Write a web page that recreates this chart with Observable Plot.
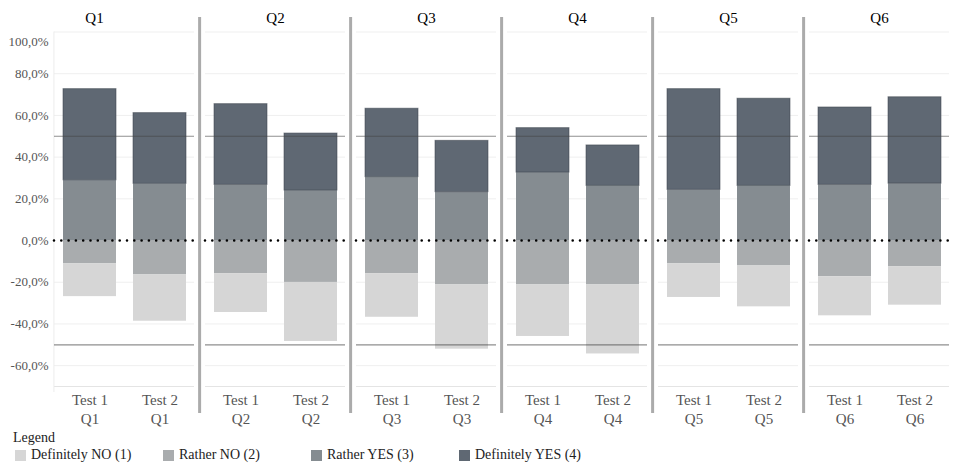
<!DOCTYPE html>
<html>
<head>
<meta charset="utf-8">
<script src="https://cdn.jsdelivr.net/npm/d3@7"></script>
<script src="https://cdn.jsdelivr.net/npm/@observablehq/plot@0.6"></script>
<style>
  html, body { margin: 0; padding: 0; background: #fff; }
  #wrap { width: 957px; height: 473px; position: relative; font-family: 'Liberation Serif', 'Times New Roman', Times, Tinos, 'DejaVu Serif', 'Noto Serif', serif; }
  #legend { position: absolute; left: 13px; top: 430px; color: #222; font-size: 14px; }
  #legend .title { line-height: 16px; }
  #legend .items { display: flex; margin-top: 1px; }
  #legend .item { width: 148px; display: flex; align-items: center; white-space: nowrap; }
  #legend .sw { width: 11px; height: 11px; margin-left: 2px; margin-right: 5px; display: inline-block; }
  #chart svg, #chart svg text { font-family: 'Liberation Serif', 'Times New Roman', Times, Tinos, 'DejaVu Serif', 'Noto Serif', serif !important; }
</style>
</head>
<body>
<div id="wrap"><div id="chart"></div><div id="legend"></div></div>
<script>
const questions = ["Q1", "Q2", "Q3", "Q4", "Q5", "Q6"];
const tests = ["Test 1", "Test 2"];
const categories = ["Definitely NO (1)", "Rather NO (2)", "Rather YES (3)", "Definitely YES (4)"];
const colors = ["#d6d6d6", "#a9acae", "#858c91", "#5f6873"];

// values in %, order: Q1 T1, Q1 T2, Q2 T1, Q2 T2, ... Q6 T2
const definitelyNo  = [15.7, 22.2, 18.5, 28.3, 20.8, 30.8, 24.7, 33.1, 16.1, 19.6, 18.7, 18.5];
const ratherNo      = [11.2, 16.5, 16.0, 20.1, 16.0, 21.3, 21.3, 21.3, 11.2, 12.2, 17.4, 12.5];
const ratherYes     = [28.9, 27.2, 26.7, 24.0, 30.4, 23.2, 32.6, 26.2, 24.3, 26.2, 26.7, 27.3];
const definitelyYes = [43.7, 33.9, 38.7, 27.3, 32.8, 24.6, 21.3, 19.4, 48.3, 41.8, 37.1, 41.4];

const yTicks = [-60, -40, -20, 0, 20, 40, 60, 80];
const yTopTick = [100];
const gridTicks = [-60, -40, -20, 20, 40, 60, 80, 100];
const bottomLine = [-70];
const refLines = [50, -50];
const zeroLine = [0];

// build diverging stacked table
const table = [];
const cells = [];
questions.forEach((q, qi) => tests.forEach((t, ti) => {
  const i = qi * 2 + ti;
  cells.push({q, test: t, label: t + "\n" + q});
  const rn = ratherNo[i], dn = definitelyNo[i], ry = ratherYes[i], dy = definitelyYes[i];
  table.push({q, test: t, cat: categories[1], y1: -rn, y2: 0});
  table.push({q, test: t, cat: categories[0], y1: -rn - dn, y2: -rn});
  table.push({q, test: t, cat: categories[2], y1: 0, y2: ry});
  table.push({q, test: t, cat: categories[3], y1: ry, y2: ry + dy});
}));

const fmt = d => d.toFixed(1).replace(".", ",") + "%";

const W = 957, ML = 52, MR = 5, FXPAD = 0.07;
const step = (W - ML - MR) / (questions.length - FXPAD);
const band = step * (1 - FXPAD);
const FONT = "'Liberation Serif', 'Times New Roman', Times, Tinos, 'DejaVu Serif', 'Noto Serif', serif";

const chart = Plot.plot({
  width: W,
  height: 428,
  marginLeft: ML,
  marginRight: MR,
  marginTop: 31.5,
  marginBottom: 42,
  style: {fontFamily: FONT, background: "white", overflow: "visible"},
  fx: {domain: questions, paddingInner: FXPAD, paddingOuter: 0, axis: null, label: null},
  x: {domain: tests, paddingInner: 0.25, paddingOuter: 0.125, axis: null, label: null},
  y: {domain: [-70, 100], label: null},
  color: {domain: categories, range: colors},
  marks: [
    Plot.ruleY(gridTicks, {stroke: "#efefef", strokeWidth: 1}),
    Plot.ruleY(bottomLine, {stroke: "#e4e4e4", strokeWidth: 1}),
    Plot.ruleX(["Q1"], {fx: d => d, x: null, dx: -band / 2, stroke: "#ececec", insetBottom: -6}),
    Plot.barY(table, {fx: "q", x: "test", y1: "y1", y2: "y2", fill: "cat"}),
    Plot.barY(table.filter(d => d.cat === categories[3]), {fx: "q", x: "test", y1: "y1", y2: "y2", fill: "none", stroke: "#3c444c", strokeOpacity: 0.55, strokeWidth: 1}),
    Plot.ruleY(refLines, {stroke: "#444", strokeOpacity: 0.6, strokeWidth: 1.2}),
    Plot.ruleY(zeroLine, {stroke: "#000", strokeWidth: 2.6, strokeDasharray: "0,7.3", strokeLinecap: "round"}),
    Plot.ruleX(questions.slice(1), {fx: d => d, x: null, dx: -step / 2, stroke: "#ababab", strokeWidth: 3, insetTop: -14.5, insetBottom: -27}),
    Plot.text(questions.slice(0, 1), {fx: d => d, text: d => d, frameAnchor: "top", lineAnchor: "bottom", dy: -9.5, dx: -30, fontSize: 15, fill: "#000"}),
    Plot.text(questions.slice(1), {fx: d => d, text: d => d, frameAnchor: "top", lineAnchor: "bottom", dy: -9.5, fontSize: 15, fill: "#000"}),
    Plot.text(cells, {fx: "q", x: "test", text: "label", frameAnchor: "bottom", lineAnchor: "top", dy: 5, lineHeight: 1.25, fontSize: 15, fill: "#555"}),
    Plot.axisY(yTicks, {tickSize: 0, tickPadding: 6, tickFormat: fmt, fontSize: 13, color: "#555", label: null}),
    Plot.axisY(yTopTick, {tickSize: 0, tickPadding: 6, tickFormat: fmt, fontSize: 13, color: "#555", label: null, dy: 10})
  ]
});
document.getElementById("chart").appendChild(chart);

// legend
const legend = document.getElementById("legend");
const title = document.createElement("div");
title.className = "title";
title.textContent = "Legend";
legend.appendChild(title);
const items = document.createElement("div");
items.className = "items";
categories.forEach((c, i) => {
  const it = document.createElement("div");
  it.className = "item";
  const sw = document.createElement("span");
  sw.className = "sw";
  sw.style.background = colors[i];
  const tx = document.createElement("span");
  tx.textContent = c;
  it.appendChild(sw);
  it.appendChild(tx);
  items.appendChild(it);
});
legend.appendChild(items);
</script>
</body>
</html>
